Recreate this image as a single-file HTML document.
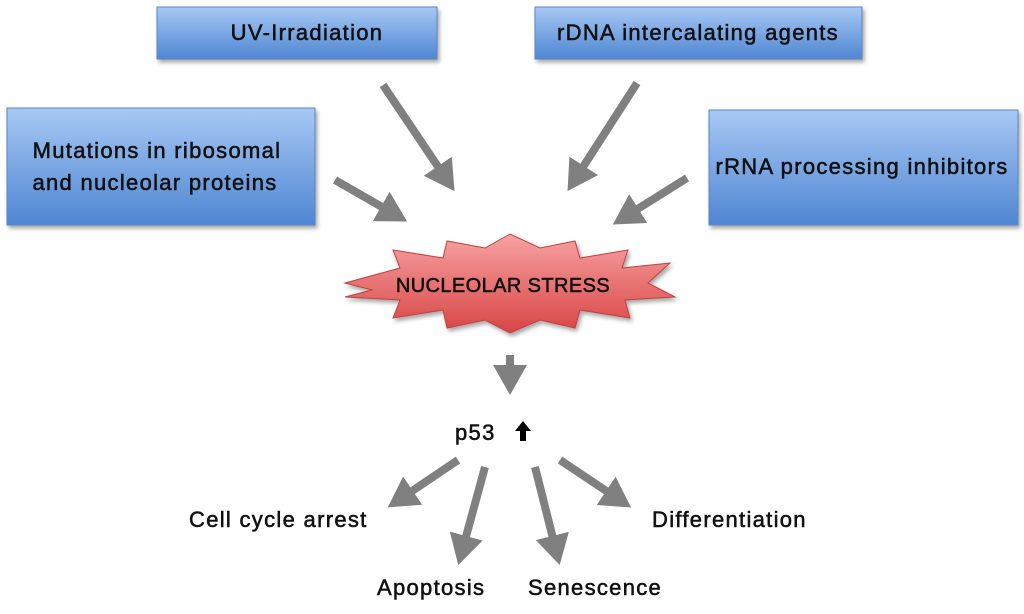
<!DOCTYPE html>
<html><head><meta charset="utf-8"><style>
html,body{margin:0;padding:0;background:#fff;}
body{width:1024px;height:609px;overflow:hidden;}
text{font-family:"Liberation Sans",sans-serif;fill:#111;stroke:#111;stroke-width:0.55;}
.t{font-size:22px;letter-spacing:1.3px;}
</style></head><body>
<svg width="1024" height="609" viewBox="0 0 1024 609" xmlns="http://www.w3.org/2000/svg">
<defs>
<linearGradient id="bg" x1="0" y1="0" x2="0" y2="1">
<stop offset="0" stop-color="#a7c8f4"/><stop offset="1" stop-color="#4f86d2"/></linearGradient>
<linearGradient id="rg" x1="0" y1="0" x2="0" y2="1">
<stop offset="0" stop-color="#f7a2a2"/><stop offset="1" stop-color="#d84545"/></linearGradient>
<filter id="sh" x="-10%" y="-10%" width="130%" height="140%"><feDropShadow dx="2" dy="3" stdDeviation="2" flood-color="#000" flood-opacity="0.35"/></filter>
<marker id="ah" markerUnits="userSpaceOnUse" markerWidth="34" markerHeight="36" refX="1" refY="17" orient="auto">
<path d="M0,0 L30,17 L0,34 Z" fill="#808080"/></marker>
</defs>
<g filter="url(#sh)" stroke="#5b87c5" stroke-width="1">
<rect x="157" y="7" width="280" height="52" fill="url(#bg)"/>
<rect x="535" y="7" width="327" height="52" fill="url(#bg)"/>
<rect x="7" y="108" width="308" height="117" fill="url(#bg)"/>
<rect x="709" y="110" width="309" height="115" fill="url(#bg)"/>
</g>
<text class="t" x="307" y="40" text-anchor="middle">UV-Irradiation</text>
<text class="t" x="698" y="40" text-anchor="middle">rDNA intercalating  agents</text>
<text class="t" x="157" y="158" text-anchor="middle">Mutations in ribosomal</text>
<text class="t" x="155" y="190" text-anchor="middle">and nucleolar proteins</text>
<text class="t" x="862" y="174" text-anchor="middle">rRNA processing  inhibitors</text>
<polygon filter="url(#sh)" fill="url(#rg)" stroke="#c04040" stroke-width="1"
points="345,283 400,268 393,250 443,258 447,241 485,248 510,234 540,248 575,241 580,258 628,250 622,268 670,263 648,283 675,297 625,300 630,318 580,310 575,328 540,320 510,333 485,320 447,328 443,310 393,318 400,300 345,297 372,290"/>
<text x="503" y="292" font-size="20" text-anchor="middle" letter-spacing="0.4" stroke-width="0.7">NUCLEOLAR STRESS</text>
<g stroke="#808080" stroke-width="8" marker-end="url(#ah)">
<line x1="383" y1="85" x2="438.3" y2="167.1"/>
<line x1="637" y1="83" x2="583.2" y2="166.7"/>
<line x1="335" y1="180" x2="382" y2="207"/>
<line x1="687" y1="178" x2="637.4" y2="209.1"/>
<line x1="510" y1="355" x2="510" y2="366"/>
<line x1="458" y1="460" x2="411.8" y2="491.2"/>
<line x1="485" y1="467" x2="465.9" y2="537"/>
<line x1="535" y1="467" x2="552.6" y2="536.9"/>
<line x1="560" y1="460" x2="607" y2="491.4"/>
</g>
<text class="t" x="455" y="440">p53</text>
<path d="M523,421 L515,431 L520,431 L520,441 L526,441 L526,431 L531,431 Z" fill="#000"/>
<text class="t" x="189" y="527">Cell cycle  arrest</text>
<text class="t" x="377" y="595">Apoptosis</text>
<text class="t" x="528" y="595">Senescence</text>
<text class="t" x="652" y="527">Differentiation</text>
</svg>
</body></html>
